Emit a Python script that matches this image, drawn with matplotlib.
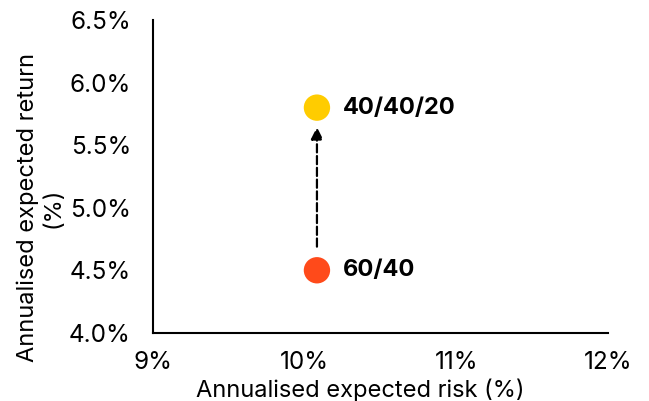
import matplotlib.pyplot as plt

plt.rcParams['font.family'] = ['Inter', 'DejaVu Sans']

portfolios = ['60/40', '40/40/20']
risk = [10.08, 10.08]
ret = [4.5, 5.8]
colors = ['#FF4A1A', '#FFCC00']

x_ticks = [9, 10, 11, 12]
y_ticks = [4.0, 4.5, 5.0, 5.5, 6.0, 6.5]

fig = plt.figure(figsize=(6.49, 4.01), dpi=100)
ax = fig.add_axes([0.236, 0.170, 0.701, 0.780])

ax.scatter(risk, ret, s=360, c=colors, zorder=3, linewidths=0)
for name, x, y in zip(portfolios, risk, ret):
    ax.annotate(name, (x, y), xytext=(19, 0), textcoords='offset points',
                va='center', ha='left', fontsize=17, fontweight='bold')

# dashed arrow from 60/40 up to 40/40/20
ax.annotate('', xy=(risk[1], ret[1]), xytext=(risk[0], ret[0]),
            arrowprops=dict(arrowstyle='-|>', linestyle='--', color='black',
                            lw=1.6, shrinkA=17, shrinkB=14, mutation_scale=18))

ax.set_xlim(9, 12)
ax.set_ylim(4.0, 6.5)
ax.set_xticks(x_ticks)
ax.set_xticklabels([f'{v}%' for v in x_ticks])
ax.set_yticks(y_ticks)
ax.set_yticklabels([f'{v:.1f}%' for v in y_ticks])
ax.tick_params(length=0, labelsize=17.5)
ax.tick_params(axis='x', pad=13)
ax.tick_params(axis='y', pad=16)
ax.spines['top'].set_visible(False)
ax.spines['right'].set_visible(False)
ax.spines['left'].set_linewidth(1.5)
ax.spines['bottom'].set_linewidth(1.5)

ax.set_xlabel('Annualised expected risk (%)', fontsize=17)
ax.set_ylabel('Annualised expected return\n(%)', fontsize=17, linespacing=1.2)
ax.xaxis.set_label_coords(0.455, -0.145)
ax.yaxis.set_label_coords(-0.195, 0.40)

fig.savefig('out.png', dpi=100)
